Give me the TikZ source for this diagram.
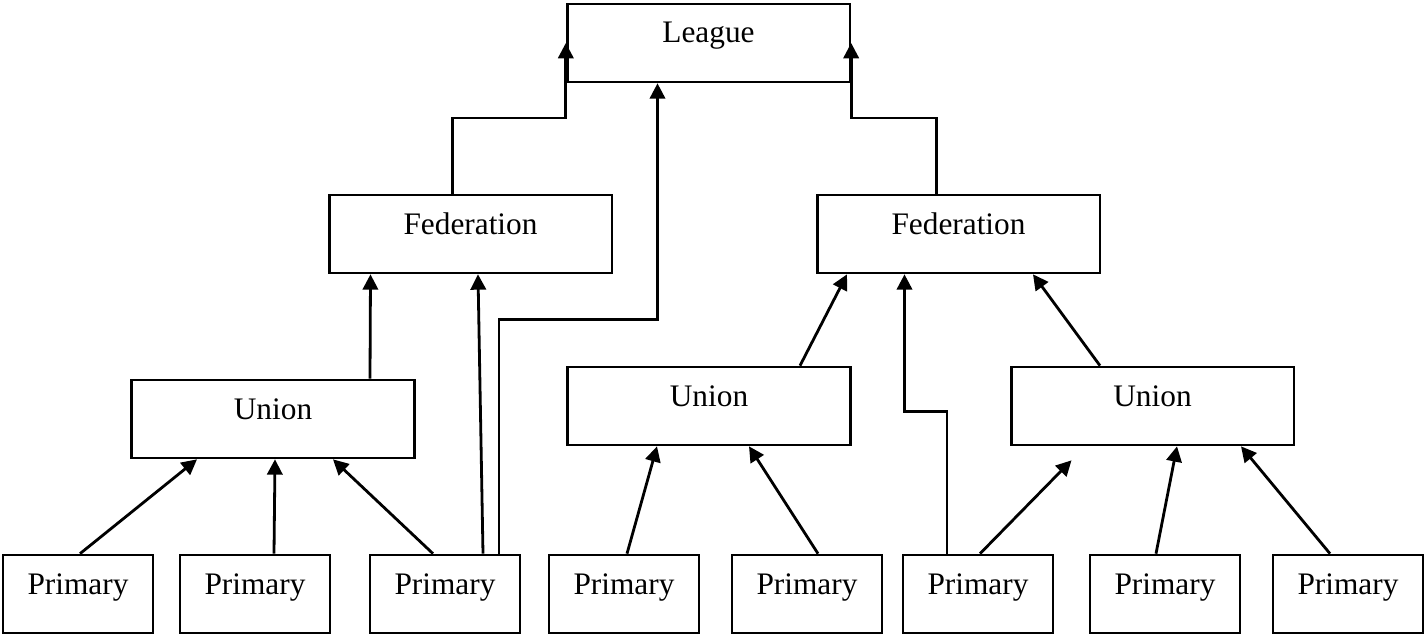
\documentclass[tikz,border=0pt]{standalone}
\usepackage{fontspec}
\setmainfont{Liberation Serif}
\usetikzlibrary{arrows.meta,calc}
\tikzset{
  box/.style={draw,line width=2pt,rectangle,minimum width=212pt,minimum height=58.5pt,
    inner sep=0pt,text height=16pt,text depth=16pt,font=\fontsize{23.5}{28}\selectfont},
  pbox/.style={box,minimum width=112.5pt},
  arr/.style={line width=2.1pt,-{Triangle[length=11.5pt,width=11.5pt]}}
}
\begin{document}
\begin{tikzpicture}[x=0.75pt,y=-0.75pt]
        \useasboundingbox (0,0) rectangle (1425,635);
        %% Top
        \node[box] (lg) at (708.5,43) {League};
        %% Federations
        \node[box] (fedL) at (470.5,234) {Federation};
        \node[box] (fedR) at (958.5,234) {Federation};
        %% Unions
        \node[box] (unA) at (273,419) {Union};
        \node[box] (unB) at (709,406) {Union};
        \node[box] (unC) at (1152.5,406) {Union};
        %% Primaries
        \node[pbox] (p1) at (78,594) {Primary};
        \node[pbox] (p2) at (255,594) {Primary};
        \node[pbox] (p3) at (445,594) {Primary};
        \node[pbox] (p4) at (624,594) {Primary};
        \node[pbox] (p5) at (807,594) {Primary};
        \node[pbox] (p6) at (978,594) {Primary};
        \node[pbox] (p7) at (1165,594) {Primary};
        \node[pbox] (p8) at (1348,594) {Primary};
        %% Federations -> League
        \draw[arr] ($(fedL.north)+(-18,0)$) |- ($(lg.west)+(0,75)$) -- (lg.west);
        \draw[arr] ($(fedR.north)+(-22,0)$) |- ($(lg.east)+(0,75)$) -- (lg.east);
        \draw[arr] ($(p3.north)+(54,0)$) |- ($(lg.south)+(-51,236)$) -- ($(lg.south)+(-51,0)$);
        %% Left branch
        \draw[arr] ($(unA.north)+(97,0)$) -- ($(fedL.south)+(-100,0)$);
        \draw[arr] ($(p3.north)+(38,0)$) -- ($(fedL.south)+(7.5,0)$);
        \draw[arr] ($(p1.north)+(2,0)$) -- ($(unA.south)+(-76,0)$);
        \draw[arr] ($(p2.north)+(19,0)$) -- ($(unA.south)+(2,0)$);
        \draw[arr] ($(p3.north)+(-12,0)$) -- ($(unA.south)+(60,0)$);
        %% Right branch
        \draw[arr] ($(unB.north)+(91,0)$) -- ($(fedR.south)+(-111.5,0)$);
        \draw[arr] ($(unC.north)+(-52.5,0)$) -- ($(fedR.south)+(74.5,0)$);
        \draw[arr] ($(p6.north)+(-31,0)$) -- ++(0,-142) -| ($(fedR.south)+(-54,0)$);
        \draw[arr] ($(p4.north)+(3,0)$) -- ($(unB.south)+(-52,0)$);
        \draw[arr] ($(p5.north)+(11,0)$) -- ($(unB.south)+(40,0)$);
        \draw[arr] ($(p6.north)+(2,0)$) -- ($(unC.south)+(-81,14)$);
        \draw[arr] ($(p7.north)+(-9,0)$) -- ($(unC.south)+(24.5,0)$);
        \draw[arr] ($(p8.north)+(-18,0)$) -- ($(unC.south)+(88.5,0)$);
\end{tikzpicture}
\end{document}
